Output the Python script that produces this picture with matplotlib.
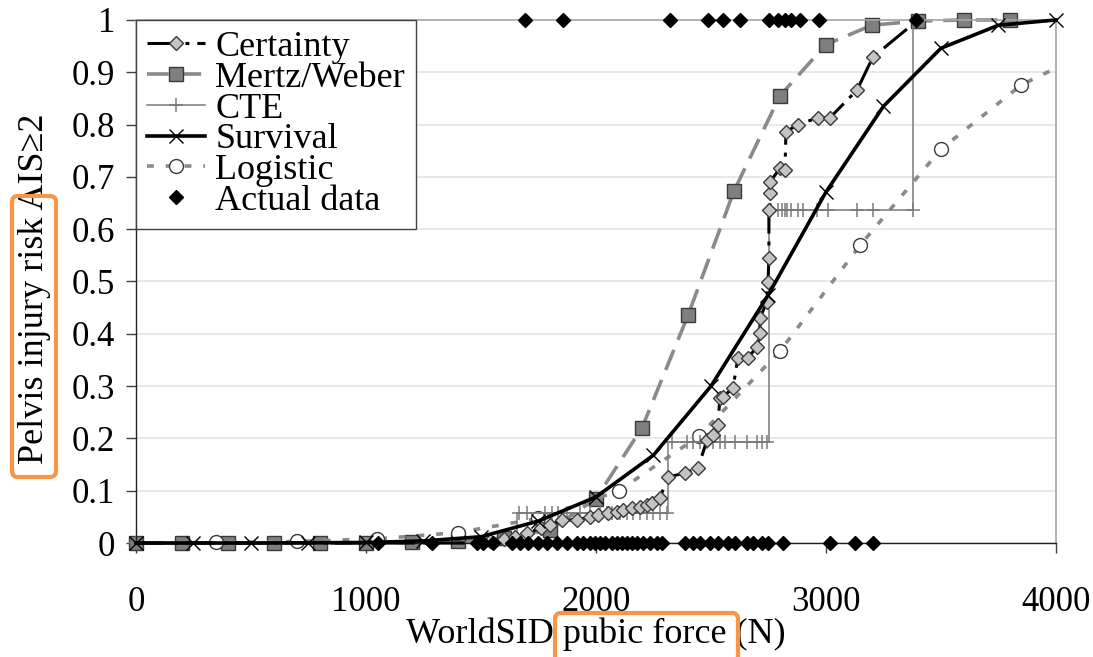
import numpy as np
import matplotlib
matplotlib.use('Agg')
import matplotlib.pyplot as plt
from matplotlib.lines import Line2D
from matplotlib.patches import FancyBboxPatch

plt.rcParams['font.family'] = ['Liberation Serif', 'DejaVu Serif']
plt.rcParams['font.size'] = 25
plt.rcParams['axes.linewidth'] = 1


# Certainty
cert_x = [0, 1500, 1540, 1600, 1650, 1700, 1760, 1800, 1852, 1917, 1974, 2009, 2052, 2091,
          2117, 2157, 2191, 2222, 2243, 2278, 2313, 2387, 2443, 2483, 2509, 2530, 2539, 2552,
          2596, 2617, 2661, 2700, 2713, 2713, 2743, 2748, 2752, 2752, 2757, 2757, 2800, 2822,
          2826, 2878, 2965, 3017, 3135, 3204, 3400]
cert_y = [0, 0, 0.004, 0.008, 0.012, 0.019, 0.028, 0.035, 0.044, 0.044, 0.05, 0.053, 0.057, 0.06,
          0.063, 0.066, 0.069, 0.072, 0.076, 0.086, 0.126, 0.134, 0.143, 0.197, 0.207, 0.226, 0.277, 0.28,
          0.296, 0.354, 0.354, 0.375, 0.401, 0.43, 0.461, 0.499, 0.545, 0.637, 0.669, 0.69, 0.717, 0.713,
          0.786, 0.8, 0.813, 0.813, 0.866, 0.929, 1.0]

# Mertz/Weber
mw_x = [0, 200, 400, 600, 800, 1000, 1200, 1400, 1600, 1800, 2000, 2200, 2400, 2600, 2800,
        3000, 3200, 3400, 3600, 3800]
mw_y = [0, 0, 0, 0, 0, 0, 0.001, 0.003, 0.01, 0.025, 0.085, 0.22, 0.435, 0.673, 0.855,
        0.953, 0.99, 0.998, 1.0, 1.0]

# CTE step levels and marks
cte_step_x = [0, 1657, 2313, 2752, 3378]
cte_step_y = [0, 0.057, 0.193, 0.637, 1.0]
cte_mark_x = [0,
              1665, 1700, 1778, 1809, 1835, 1874, 1930, 1974, 2017, 2048, 2070, 2104, 2135, 2161,
              2191, 2222, 2248, 2278, 2309,
              2330, 2396, 2422, 2452, 2483, 2509, 2539, 2561, 2604, 2657, 2700, 2722, 2743,
              2760, 2790, 2809, 2822, 2830, 2848, 2878, 2900, 2961, 3009, 3135, 3204, 3378]
cte_mark_y = [0] + [0.057] * 19 + [0.193] * 13 + [0.637] * 13

# Survival
sv_x = [0, 250, 500, 750, 1000, 1250, 1500, 1750, 2000, 2250, 2500, 2750, 3000, 3250, 3500, 3750, 4000]
sv_y = [0, 0, 0, 0.0005, 0.001, 0.004, 0.012, 0.042, 0.088, 0.168, 0.30, 0.475, 0.671, 0.835,
        0.946, 0.99, 1.0]

# Logistic
lg_x = [0, 350, 700, 1050, 1400, 1750, 2100, 2450, 2800, 3150, 3500, 3850, 4000]
lg_y = [0, 0.001, 0.003, 0.008, 0.02, 0.047, 0.10, 0.205, 0.367, 0.57, 0.753, 0.876, 0.908]

# Actual data (injured = 1, not injured = 0)
act1_x = [1691, 1857, 2322, 2487, 2552, 2626, 2752, 2791, 2822, 2848, 2887, 2970, 3391]
act0_x = [1052, 1287, 1483, 1509, 1552, 1635, 1670, 1704, 1748, 1787, 1830, 1874, 1917, 1943,
          1974, 1996, 2017, 2039, 2070, 2091, 2113, 2135, 2157, 2178, 2204, 2235, 2265, 2287,
          2387, 2422, 2452, 2496, 2530, 2574, 2604, 2657, 2683, 2722, 2748, 2813, 3017, 3126, 3204]

yticks = np.arange(0, 1.01, 0.1)
ytick_labels = ['0', '0.1', '0.2', '0.3', '0.4', '0.5', '0.6', '0.7', '0.8', '0.9', '1']
xticks = [0, 1000, 2000, 3000, 4000]

gray = '#8a8a8a'
edge = '#3a3a3a'
cert_ls = (0, (9.8, 2.6, 1.3, 2.6))
mw_ls = (0, (6, 3))
lg_ls = (0, (1.9, 3.3))

fig = plt.figure(figsize=(10.93, 6.57), dpi=100)
ax = fig.add_axes([0.1244, 0.1735, 0.8417, 0.7961])

ax.yaxis.grid(True, color='#e4e4e4', lw=1.2)
ax.set_axisbelow(True)

ax.plot(mw_x, mw_y, color=gray, lw=2.6, ls=mw_ls, marker='s', ms=10.5, mfc='#7f7f7f',
        mec=edge, mew=1, clip_on=False, zorder=2)
ax.plot(lg_x, lg_y, color=gray, lw=2.6, ls=lg_ls, marker='o', ms=10, mfc='white',
        mec=edge, mew=1, markevery=list(range(1, 12)), clip_on=False, zorder=2)
ax.step(cte_step_x, cte_step_y, where='post', color='#7a7a7a', lw=1.1, clip_on=False, zorder=2)
ax.plot(cte_mark_x, cte_mark_y, ls='none', marker='+', ms=10, mec='#7a7a7a', mew=1.1,
        clip_on=False, zorder=2)
ax.plot(cert_x, cert_y, color='black', lw=2.2, ls=cert_ls, marker='D', ms=7.5, mfc='#c4c4c4',
        mec=edge, mew=1, markevery=list(range(2, len(cert_x) - 1)), clip_on=False, zorder=3)
ax.plot(sv_x, sv_y, color='black', lw=2.6, marker='x', ms=9.5, mec='black', mew=1,
        clip_on=False, zorder=3)
ax.plot(act1_x, [1] * len(act1_x), ls='none', marker='D', ms=7.5, color='black', clip_on=False, zorder=4)
ax.plot(act0_x, [0] * len(act0_x), ls='none', marker='D', ms=7.5, color='black', clip_on=False, zorder=4)

ax.set_xlim(0, 4000)
ax.set_ylim(0, 1)
ax.set_xticks(xticks)
ax.set_xticklabels([str(v) for v in xticks])
ax.set_yticks(yticks)
ax.set_yticklabels(ytick_labels)
ax.tick_params(axis='both', direction='out', length=7, width=1, color='#404040', labelsize=25)
ax.tick_params(axis='x', pad=24)
ax.tick_params(axis='y', pad=8)

for s in ['top', 'right']:
    ax.spines[s].set_color('#a6a6a6')
    ax.spines[s].set_linewidth(1.2)
for s in ['left', 'bottom']:
    ax.spines[s].set_color('#202020')

ax.set_xlabel('WorldSID pubic force (N)', fontsize=26, labelpad=-1)
ax.set_ylabel('Pelvis injury risk AIS≥2', fontsize=26)
ax.yaxis.set_label_coords(-0.092, 0.487)

handles = [
    Line2D([], [], color='black', lw=2.2, ls=cert_ls, marker='D', ms=7.5, mfc='#c4c4c4', mec=edge),
    Line2D([], [], color=gray, lw=2.6, ls=mw_ls, marker='s', ms=10.5, mfc='#7f7f7f', mec=edge),
    Line2D([], [], color='#7a7a7a', lw=1.1, marker='+', ms=10, mew=1.1),
    Line2D([], [], color='black', lw=2.6, marker='x', ms=9.5, mew=1),
    Line2D([], [], color=gray, lw=2.6, ls=lg_ls, marker='o', ms=10, mfc='white', mec=edge),
    Line2D([], [], ls='none', marker='D', ms=7.5, color='black'),
]
labels = ['Certainty', 'Mertz/Weber', 'CTE', 'Survival', 'Logistic', 'Actual data']
leg = ax.legend(handles, labels, loc='upper left', bbox_to_anchor=(0, 1), borderaxespad=0,
                fontsize=26, labelspacing=-0.07, handlelength=1.6, handletextpad=0.3,
                borderpad=0.3, fancybox=False, framealpha=1, edgecolor='#404040')
leg.get_frame().set_linewidth(1)

# orange highlight boxes
orange = '#F79646'
fig.add_artist(FancyBboxPatch((0.12, 1.80), 0.44, 2.81, boxstyle='round,pad=0,rounding_size=0.06',
                              transform=fig.dpi_scale_trans, fill=False, ec=orange, lw=3))
fig.add_artist(FancyBboxPatch((5.55, -0.05), 1.83, 0.49, boxstyle='round,pad=0,rounding_size=0.06',
                              transform=fig.dpi_scale_trans, fill=False, ec=orange, lw=3))

plt.savefig('out.png', dpi=100)
